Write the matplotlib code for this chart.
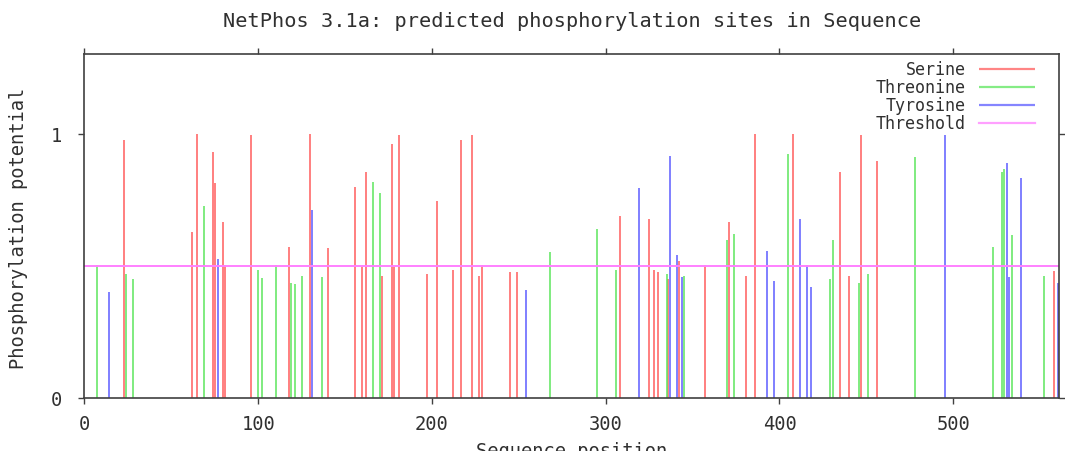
import matplotlib
matplotlib.use("Agg")
import matplotlib.pyplot as plt

# ---- data ----
serine_pos = [23, 62, 65, 74, 75, 80, 81, 96, 118, 130, 140, 156, 160, 162, 171,
              177, 178, 181, 197, 203, 212, 217, 223, 227, 229, 245, 249, 308,
              325, 328, 330, 336, 342, 357, 371, 381, 386, 408, 435, 440, 447,
              456, 558]
serine_val = [0.977, 0.631, 1.0, 0.934, 0.817, 0.669, 0.506, 0.997, 0.574, 1.0,
              0.569, 0.80, 0.497, 0.859, 0.464, 0.964, 0.497, 0.996, 0.471, 0.749,
              0.487, 0.977, 0.996, 0.464, 0.506, 0.477, 0.477, 0.692, 0.679,
              0.487, 0.477, 0.452, 0.519, 0.506, 0.669, 0.464, 1.0, 1.0, 0.859,
              0.464, 0.996, 0.897, 0.482]

threonine_pos = [7, 24, 28, 69, 100, 102, 110, 119, 121, 125, 137, 166, 170, 268,
                 295, 306, 335, 345, 370, 374, 405, 429, 431, 446, 451, 478, 523,
                 528, 529, 534, 552]
threonine_val = [0.506, 0.472, 0.452, 0.730, 0.487, 0.457, 0.506, 0.438, 0.434,
                 0.464, 0.458, 0.821, 0.779, 0.555, 0.642, 0.487, 0.471, 0.464,
                 0.600, 0.623, 0.924, 0.452, 0.600, 0.438, 0.471, 0.915, 0.574,
                 0.859, 0.869, 0.618, 0.464]

tyrosine_pos = [14, 77, 131, 254, 319, 337, 341, 344, 393, 397, 412, 416, 418,
                495, 531, 532, 539, 560]
tyrosine_val = [0.402, 0.527, 0.713, 0.409, 0.798, 0.916, 0.544, 0.459, 0.557,
                0.444, 0.680, 0.506, 0.421, 0.996, 0.891, 0.459, 0.834, 0.438]

threshold = 0.5
seq_length = 561
x_ticks = [0, 100, 200, 300, 400, 500]
y_ticks = [0, 1]

title = "NetPhos 3.1a: predicted phosphorylation sites in Sequence"
xlabel = "Sequence position"
ylabel = "Phosphorylation potential"

# ---- style ----
plt.rcParams['font.family'] = ['DejaVu Sans Mono', 'DejaVu Sans']
txt_color = '#303030'
c_ser, c_thr, c_tyr, c_thresh = '#ff5c5c', '#5ce65c', '#5c5cff', '#ff80ff'
lw = 1.1

fig = plt.figure(figsize=(10.65, 4.51), dpi=100)
ax = fig.add_axes([0.0792, 0.1169, 0.9154, 0.7627])

ax.vlines(serine_pos, 0, serine_val, colors=c_ser, linewidth=lw, label='Serine')
ax.vlines(threonine_pos, 0, threonine_val, colors=c_thr, linewidth=lw, label='Threonine')
ax.vlines(tyrosine_pos, 0, tyrosine_val, colors=c_tyr, linewidth=lw, label='Tyrosine')
ax.axhline(threshold, color=c_thresh, linewidth=1.4, label='Threshold')

ax.set_xlim(0, seq_length)
ax.set_ylim(0, 1.303)
ax.set_xticks(x_ticks)
ax.set_yticks(y_ticks)
ax.set_xticklabels([str(t) for t in x_ticks])
ax.set_yticklabels([str(t) for t in y_ticks])

for s in ax.spines.values():
    s.set_color('#404040')
    s.set_linewidth(1.2)

ax.tick_params(axis='both', direction='out', length=4.3, width=1.0, color='#404040',
               labelsize=13.5, labelcolor=txt_color, top=True, right=True)
ax.tick_params(axis='x', pad=7.5)
ax.tick_params(axis='y', pad=11.5)

ax.set_title(title, fontsize=14.6, color=txt_color, pad=19.7)
ax.set_xlabel(xlabel, fontsize=13.5, color=txt_color)
ax.xaxis.set_label_coords(0.5, -0.127)
ax.set_ylabel(ylabel, fontsize=13.5, color=txt_color)
ax.yaxis.set_label_coords(-0.0577, 0.493)

leg = ax.legend(loc='upper right', bbox_to_anchor=(0.975, 0.9805), frameon=False,
                markerfirst=False, fontsize=12, handlelength=3.36,
                handletextpad=0.78, labelspacing=0.0, borderpad=0, borderaxespad=0)
for t in leg.get_texts():
    t.set_color(txt_color)
for h in leg.legend_handles:
    h.set_linewidth(1.6)
    h.set_alpha(0.75)

fig.savefig('out.png', dpi=100)
